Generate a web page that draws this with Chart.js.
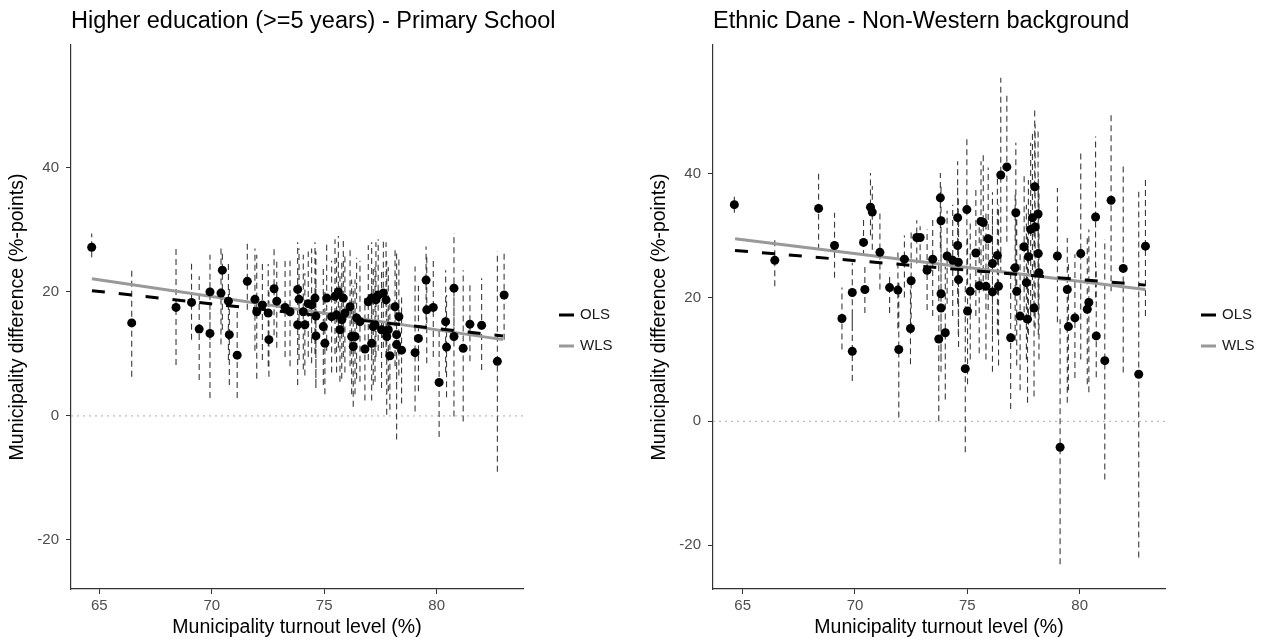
<!DOCTYPE html>
<html>
<head>
<meta charset="utf-8">
<script src="https://cdn.jsdelivr.net/npm/chart.js@4.4.1/dist/chart.umd.min.js"></script>
<style>
  body { margin: 0; background: #fff; }
  canvas { position: absolute; top: 0; }
</style>
</head>
<body>
<canvas id="eduChart" width="635" height="639" style="left:0"></canvas>
<canvas id="ethChart" width="635" height="639" style="left:642px"></canvas>
<script>
// tick labels
const xTicks = [65, 70, 75, 80];
const yTicks = [-20, 0, 20, 40];

// Higher education (>=5 years) - Primary School
const eduTurnout = [64.66, 66.44, 68.41, 69.10, 69.44, 69.92, 69.92, 70.47, 70.41, 70.74,
  70.78, 71.13, 71.58, 71.92, 72.00, 72.25, 72.51, 72.54, 72.77, 72.89,
  73.26, 73.48, 73.82, 73.88, 73.82, 74.14, 74.29, 74.07, 74.59, 74.44,
  74.63, 74.63, 74.96, 75.03, 75.11, 75.33, 75.48, 75.63, 75.78, 75.70,
  75.85, 75.92, 76.15, 76.22, 76.29, 76.44, 76.59, 76.81, 76.96, 77.11,
  77.18, 77.40, 77.63, 77.55, 77.75, 77.78, 77.85, 77.92, 78.15, 78.22,
  78.22, 78.32, 78.44, 79.04, 79.19, 79.53, 79.56, 79.85, 80.11, 80.40,
  80.44, 80.77, 80.77, 81.18, 81.48, 82.00, 82.70, 83.00,
  75.55, 76.37, 77.30, 77.11, 77.26];
const eduDiff = [27.2, 15.0, 17.5, 18.3, 14.0, 20.0, 13.3, 23.5, 19.8, 18.5,
  13.1, 9.8, 21.7, 18.8, 16.8, 17.9, 16.6, 12.3, 20.5, 18.5,
  17.5, 16.8, 20.4, 18.8, 14.7, 14.7, 18.1, 16.8, 19.0, 17.9,
  16.1, 12.9, 14.4, 11.7, 19.0, 16.0, 19.3, 20.0, 15.5, 13.9,
  19.0, 16.6, 17.6, 12.8, 11.2, 15.8, 15.2, 10.8, 18.4, 11.7,
  14.4, 19.5, 19.8, 13.9, 18.7, 12.8, 13.9, 9.7, 17.6, 13.1,
  11.5, 16.0, 10.6, 10.2, 12.5, 21.9, 17.1, 17.5, 5.4, 15.2,
  11.1, 20.6, 12.8, 10.9, 14.8, 14.6, 8.8, 19.5,
  16.3, 12.8, 18.7, 19.0, 14.7];
const eduLow = [25.6, 6.3, 8.2, 12.3, 5.8, 12.3, 2.9, 13.9, 11.5, 9.0,
  5.0, 2.9, 17.1, 10.5, 6.0, 9.0, 8.0, 6.3, 13.0, 11.0,
  9.5, 8.0, 10.0, 9.0, 5.0, 6.5, 9.5, 7.5, 10.0, 8.5,
  5.0, 4.5, 5.0, 3.5, 10.5, 7.0, 10.0, 11.0, 6.0, 5.5,
  9.5, 7.0, 8.0, 3.5, 1.5, 6.0, 5.5, 2.5, 9.0, 2.5,
  5.0, 10.5, 11.0, 4.5, 9.5, 0.2, 4.0, 1.0, 8.0, 4.5,
  -3.8, 6.5, 2.0, 0.7, 4.0, 13.9, 8.5, 9.5, -3.4, 7.0,
  3.0, 11.7, -0.1, -0.9, 8.8, 7.4, -9.0, 12.3,
  7.0, 3.5, 9.5, 10.0, 5.5];
const eduHigh = [29.4, 23.6, 27.0, 24.9, 22.5, 26.0, 22.0, 26.5, 27.5, 25.0,
  21.0, 17.0, 28.1, 27.0, 26.0, 25.0, 24.5, 20.0, 27.5, 25.0,
  25.5, 25.0, 28.0, 27.0, 24.0, 23.0, 26.5, 26.0, 28.0, 27.0,
  26.5, 21.5, 24.0, 20.0, 28.0, 25.0, 28.5, 29.0, 25.0, 22.5,
  28.5, 26.0, 27.0, 22.0, 21.0, 25.5, 25.0, 19.0, 27.5, 21.0,
  24.0, 28.5, 28.5, 23.5, 28.0, 25.0, 24.0, 18.5, 27.0, 22.0,
  26.5, 25.5, 19.5, 24.1, 21.0, 27.3, 26.0, 25.5, 14.0, 23.5,
  19.5, 29.5, 22.0, 23.5, 21.7, 22.2, 26.5, 26.5,
  25.5, 22.0, 28.0, 28.0, 24.0];
const eduFitX = [64.67, 82.95];
const eduOls = [20.2, 12.9];
const eduWls = [22.1, 12.3];

// Ethnic Dane - Non-Western background
const ethTurnout = [64.63, 66.43, 68.38, 69.09, 69.42, 69.88, 69.88, 70.38, 70.44, 70.69,
  70.77, 71.11, 71.54, 71.91, 71.95, 72.20, 72.50, 72.47, 72.75, 72.90,
  73.21, 73.46, 73.80, 73.83, 74.10, 73.83, 73.83, 74.02, 73.73, 74.35,
  74.57, 74.57, 74.60, 74.61, 74.98, 74.91, 75.01, 75.13, 75.38, 75.53,
  75.61, 75.71, 75.83, 75.93, 76.12, 76.12, 76.34, 76.39, 76.49, 76.76,
  76.93, 77.13, 77.16, 77.20, 77.35, 77.53, 77.68, 77.63, 77.72, 77.82,
  77.90, 78.02, 78.00, 77.97, 78.15, 78.16, 78.19, 79.01, 79.13, 79.45,
  79.50, 79.79, 80.05, 80.34, 80.41, 80.71, 80.74, 81.12, 81.40, 81.94,
  82.63, 82.93];
const ethDiff = [35.0, 26.0, 34.4, 28.4, 16.6, 20.8, 11.3, 28.9, 21.3, 34.6,
  33.8, 27.3, 21.6, 21.2, 11.6, 26.2, 22.7, 15.0, 29.7, 29.7,
  24.4, 26.2, 36.1, 32.4, 26.7, 20.6, 18.3, 14.3, 13.3, 26.0,
  32.9, 28.4, 25.7, 22.9, 34.2, 8.5, 17.8, 21.0, 27.2, 21.9,
  32.3, 32.1, 21.8, 29.5, 25.5, 20.9, 26.8, 21.8, 39.8, 41.1,
  13.5, 24.8, 33.7, 21.0, 17.0, 28.2, 16.5, 22.4, 26.6, 31.0,
  32.9, 31.4, 37.9, 18.3, 33.5, 27.1, 24.0, 26.7, -4.2, 21.3,
  15.3, 16.7, 27.1, 18.1, 19.2, 33.0, 13.8, 9.8, 35.7, 24.7,
  7.6, 28.3];
const ethLow = [33.7, 21.8, 27.7, 23.2, 11.6, 15.5, 6.5, 26.7, 17.5, 30.0,
  27.7, 21.3, 17.5, 15.0, 0.6, 20.0, 15.0, 9.2, 25.5, 26.0,
  18.0, 17.0, 28.0, 24.0, 19.0, 10.0, 8.0, 3.5, 0.0, 17.0,
  22.0, 19.0, 14.0, 12.0, 22.0, -5.0, 6.0, 10.0, 17.0, 11.0,
  22.0, 21.0, 10.0, 18.0, 14.0, 8.0, 14.0, 9.0, 24.0, 29.0,
  2.0, 13.0, 22.0, 9.0, 5.0, 16.0, 3.0, 10.0, 14.0, 17.0,
  18.0, 15.0, 25.0, 4.0, 20.0, 14.0, 10.0, 16.0, -23.1, 3.0,
  5.0, 7.0, 10.0, 6.0, 4.7, 20.0, 7.1, -9.4, 21.0, 7.9,
  -22.0, 17.0];
const ethHigh = [36.6, 29.8, 40.1, 33.7, 21.6, 25.6, 18.0, 32.6, 25.3, 40.1,
  38.0, 33.7, 24.0, 27.5, 22.4, 30.0, 30.5, 21.3, 32.5, 31.5,
  31.0, 33.0, 40.1, 38.0, 34.0, 30.0, 28.0, 25.0, 26.0, 35.0,
  42.0, 38.0, 36.0, 33.0, 46.0, 22.0, 30.0, 32.0, 38.0, 33.0,
  42.0, 43.0, 34.0, 41.0, 37.0, 34.0, 40.0, 35.0, 55.5, 53.0,
  25.0, 37.0, 45.0, 33.0, 29.0, 40.0, 30.0, 35.0, 39.0, 45.0,
  47.0, 48.0, 50.6, 33.0, 47.0, 40.0, 38.0, 37.7, 16.5, 29.6,
  26.0, 27.0, 43.6, 30.0, 31.0, 46.0, 25.0, 29.4, 49.8, 41.2,
  37.1, 39.0];
const ethFitX = [64.66, 82.93];
const ethOls = [27.6, 22.0];
const ethWls = [29.5, 21.3];

Chart.defaults.font.family = '"Liberation Sans", Arial, sans-serif';

// panel title, left-aligned with the plot area (may run past it)
const panelTitle = {
  id: 'panelTitle',
  afterDraw(chart, args, opts) {
    const ctx = chart.ctx;
    ctx.save();
    ctx.font = '23.5px "Liberation Sans", Arial, sans-serif';
    ctx.fillStyle = '#000';
    ctx.textBaseline = 'middle';
    ctx.fillText(opts.text, chart.chartArea.left, opts.y);
    ctx.restore();
  }
};

// OLS / WLS key drawn to the right of the plot
const sideLegend = {
  id: 'sideLegend',
  afterDraw(chart, args, opts) {
    const ctx = chart.ctx;
    ctx.save();
    ctx.font = '15px "Liberation Sans", Arial, sans-serif';
    ctx.textBaseline = 'middle';
    chart.data.datasets.filter(d => d.inLegend).forEach((d, i) => {
      const y = opts.top + i * opts.step;
      ctx.fillStyle = d.borderColor;
      ctx.fillRect(opts.left, y - 1.5, 15, 3);
      ctx.fillStyle = '#1a1a1a';
      ctx.fillText(d.label, opts.left + 21, y);
    });
    ctx.restore();
  }
};

const pairs = (xs, ys) => xs.map((x, i) => ({ x: x, y: ys[i] }));

const errorBars = (xs, lo, hi) => {
  const pts = [];
  xs.forEach((x, i) => {
    pts.push({ x: x, y: lo[i] }, { x: x, y: hi[i] }, { x: x, y: null });
  });
  return pts;
};

const makePanel = (id, title, xs, ys, lo, hi, fitX, ols, wls, xRange, yRange) => {
  return new Chart(document.getElementById(id), {
    type: 'scatter',
    data: {
      datasets: [
        { type: 'scatter', label: 'Municipality', data: pairs(xs, ys), pointRadius: 4.5,
          pointBackgroundColor: '#000', pointBorderWidth: 0, order: 0 },
        { type: 'line', label: 'OLS', data: pairs(fitX, ols), borderColor: '#000', borderWidth: 3,
          borderDash: [13, 14], pointRadius: 0, order: 1, inLegend: true },
        { type: 'line', label: 'WLS', data: pairs(fitX, wls), borderColor: '#999999', borderWidth: 3,
          pointRadius: 0, order: 2, inLegend: true },
        { type: 'line', label: 'CI', data: errorBars(xs, lo, hi), borderColor: '#3a3a3a', borderWidth: 1.1,
          borderDash: [6, 4], pointRadius: 0, spanGaps: false, order: 3 },
        { type: 'line', label: 'zero', data: pairs(xRange, [0, 0]), borderColor: '#aaaaaa', borderWidth: 1,
          borderDash: [2, 4], pointRadius: 0, order: 4 }
      ]
    },
    options: {
      responsive: false,
      animation: false,
      layout: { padding: { left: 0, top: 45, right: 112, bottom: 0 } },
      plugins: {
        legend: { display: false },
        tooltip: { enabled: false },
        panelTitle: { text: title, y: 22 },
        sideLegend: { left: 559, top: 315, step: 31 }
      },
      scales: {
        x: {
          type: 'linear', min: xRange[0], max: xRange[1],
          afterBuildTicks: s => { s.ticks = xTicks.map(v => ({ value: v })); },
          afterFit: s => { s.height = 50; },
          grid: { drawOnChartArea: false, drawTicks: true, tickLength: 5, color: '#333' },
          border: { display: true, color: '#333', width: 1.2 },
          ticks: { color: '#4d4d4d', font: { size: 15 }, padding: 3, maxRotation: 0 },
          title: { display: true, text: 'Municipality turnout level (%)', color: '#000',
            font: { size: 19.5 }, padding: { top: 0, bottom: 0 } }
        },
        y: {
          type: 'linear', min: yRange[0], max: yRange[1],
          afterBuildTicks: s => { s.ticks = yTicks.map(v => ({ value: v })); },
          afterFit: s => { s.width = 71; },
          grid: { drawOnChartArea: false, drawTicks: true, tickLength: 5, color: '#333' },
          border: { display: true, color: '#333', width: 1.2 },
          ticks: { color: '#4d4d4d', font: { size: 15 }, padding: 7 },
          title: { display: true, text: 'Municipality difference (%-points)', color: '#000',
            font: { size: 19.5 }, padding: { top: 6, bottom: 0 } }
        }
      }
    },
    plugins: [panelTitle, sideLegend]
  });
};

makePanel('eduChart', 'Higher education (>=5 years) - Primary School',
  eduTurnout, eduDiff, eduLow, eduHigh, eduFitX, eduOls, eduWls, [63.74, 83.84], [-27.9, 59.8]);
makePanel('ethChart', 'Ethnic Dane - Non-Western background',
  ethTurnout, ethDiff, ethLow, ethHigh, ethFitX, ethOls, ethWls, [63.68, 83.8], [-27.1, 60.8]);
</script>
</body>
</html>
